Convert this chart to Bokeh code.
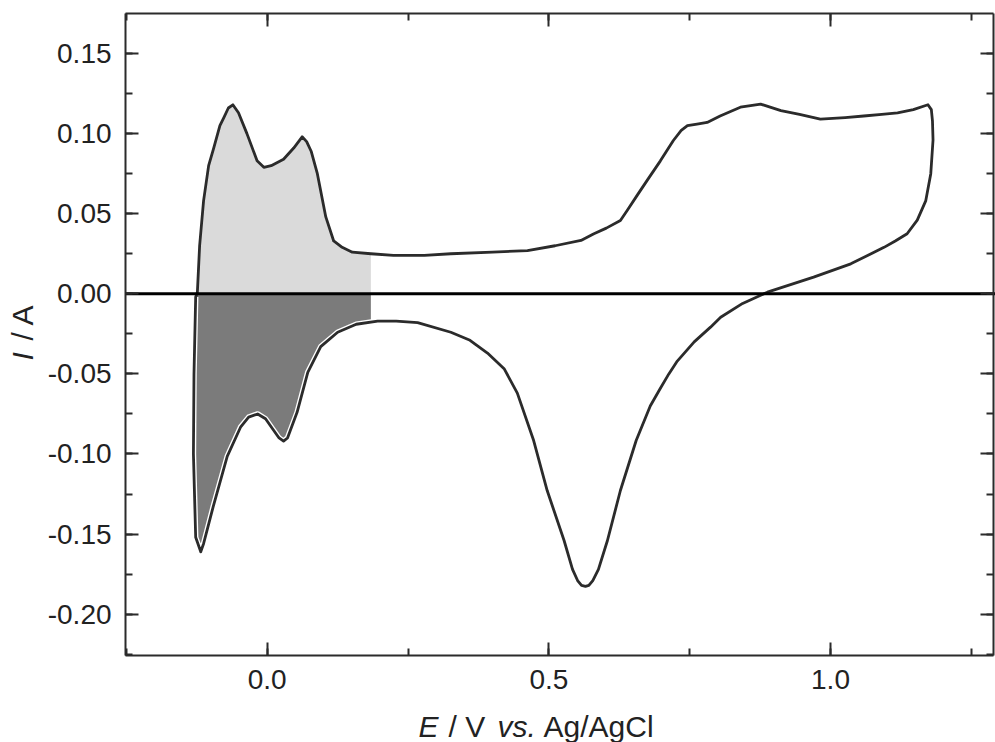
import numpy as np
from bokeh.plotting import figure
from bokeh.models import (Range1d, LinearAxis, SingleIntervalTicker, NumeralTickFormatter,
                          CustomJSTickFormatter, Label)
from bokeh.embed import file_html
from bokeh.resources import INLINE

# ---- data ----
# anodic (forward) sweep, E / V vs Ag/AgCl and I / A
anodic_E = [-0.118, -0.127, -0.131, -0.130, -0.127, -0.124, -0.120, -0.113, -0.104, -0.095,
            -0.084, -0.077, -0.069, -0.061, -0.051, -0.036, -0.018, -0.006, 0.007, 0.029,
            0.047, 0.062, 0.070, 0.078, 0.089, 0.104, 0.118, 0.133, 0.151, 0.184,
            0.224, 0.279, 0.326, 0.400, 0.462, 0.511, 0.557, 0.580, 0.602, 0.627,
            0.639, 0.657, 0.676, 0.698, 0.721, 0.735, 0.746, 0.763, 0.781, 0.804,
            0.840, 0.876, 0.912, 0.945, 0.982, 1.026, 1.059, 1.091, 1.119, 1.147,
            1.173]
anodic_I = [-0.161, -0.152, -0.100, -0.050, -0.002, 0.001, 0.030, 0.058, 0.080, 0.091,
            0.105, 0.110, 0.116, 0.118, 0.113, 0.100, 0.083, 0.079, 0.080, 0.084,
            0.091, 0.098, 0.095, 0.089, 0.075, 0.048, 0.033, 0.029, 0.026, 0.025,
            0.024, 0.024, 0.025, 0.026, 0.027, 0.030, 0.0333, 0.0375, 0.041, 0.0458,
            0.052, 0.0616, 0.0716, 0.083, 0.0957, 0.102, 0.105, 0.106, 0.107, 0.111,
            0.1165, 0.1184, 0.1144, 0.112, 0.109, 0.110, 0.111, 0.112, 0.113, 0.115,
            0.118]
# cathodic (reverse) sweep
cathodic_E = [1.179, 1.181, 1.182, 1.178, 1.169, 1.154, 1.136, 1.115, 1.095, 1.036,
              0.970, 0.888, 0.844, 0.805, 0.787, 0.758, 0.728, 0.713, 0.698, 0.680,
              0.655, 0.627, 0.604, 0.588, 0.578, 0.571, 0.565, 0.558, 0.551, 0.542,
              0.527, 0.497, 0.473,
              0.444, 0.421, 0.391, 0.360, 0.326, 0.267, 0.229, 0.196, 0.158, 0.125,
              0.095, 0.072, 0.053, 0.036, 0.029, 0.021, 0.011, -0.003, -0.017, -0.033,
              -0.047, -0.071, -0.096, -0.113, -0.118]
cathodic_I = [0.115, 0.108, 0.096, 0.075, 0.058, 0.046, 0.0375, 0.033, 0.029, 0.0187,
              0.0104, 0.001, -0.006, -0.0146, -0.0208, -0.030, -0.042, -0.050, -0.059, -0.070,
              -0.0916, -0.1228, -0.154, -0.172, -0.179, -0.182, -0.1826, -0.182, -0.179, -0.172,
              -0.154, -0.1228, -0.0916,
              -0.062, -0.047, -0.037, -0.029, -0.024, -0.018, -0.017, -0.017, -0.019, -0.024,
              -0.033, -0.049, -0.074, -0.090, -0.092, -0.090, -0.085, -0.078, -0.075, -0.077,
              -0.083, -0.1015, -0.133, -0.156, -0.161]
charge_limit_E = 0.184          # right edge of the shaded charge areas
x_lo, x_hi = -0.2515, 1.289     # plot box (axis limits)
y_lo, y_hi = -0.2258, 0.175
x_major = 0.5
y_major = 0.05

aE = np.array(anodic_E); aI = np.array(anodic_I)
cE = np.array(cathodic_E); cI = np.array(cathodic_I)

# the frame covers the whole canvas; the axes are pinned at the plot-box limits
p = figure(width=995, height=742, output_backend="svg", toolbar_location=None,
           x_range=Range1d(-0.4735, 1.2929), y_range=Range1d(-0.2801, 0.1831),
           x_axis_type=None, y_axis_type=None,
           min_border_left=0, min_border_right=0, min_border_top=0, min_border_bottom=0)
p.outline_line_color = None
p.background_fill_color = "white"
p.border_fill_color = "white"

# ---- shaded areas ----
m = (aI >= 0) & (aE <= charge_limit_E)
lx = list(aE[m]) + [charge_limit_E, aE[m][0]]
ly = list(aI[m]) + [0.0, 0.0]
p.patch(lx, ly, fill_color="#dadada", line_color=None)

c_at = float(np.interp(charge_limit_E, cE[::-1], cI[::-1]))
mc = cE < charge_limit_E
na = aI < 0
dx = [charge_limit_E, charge_limit_E] + list(cE[mc]) + list(aE[na][1:]) + [aE[na][-1]]
dy = [0.0, c_at] + list(cI[mc]) + list(aI[na][1:]) + [0.0]
p.patch(dx, dy, fill_color="#7b7b7b", line_color=None)

# thin white rim along the curve inside the dark area
wx = [charge_limit_E + 0.01] + list(cE[mc]) + list(aE[na][1:])
wy = [float(np.interp(charge_limit_E + 0.01, cE[::-1], cI[::-1]))] + list(cI[mc]) + list(aI[na][1:])
p.line(wx, wy, line_color="white", line_width=5.5, line_join="round")

# ---- the voltammogram ----
allE = list(aE) + list(cE)
allI = list(aI) + list(cI)
p.line(allE, allI, line_color="#2b2b2b", line_width=2.8, line_join="round", line_cap="round")

# zero-current line across the box
p.line([x_lo, x_hi + 0.01], [0, 0], line_color="black", line_width=3)

# ---- axes ----
AX = "#2b2b2b"
def style(ax, labels):
    ax.axis_line_color = AX
    ax.axis_line_width = 2
    ax.major_tick_in = 13
    ax.major_tick_out = 0
    ax.minor_tick_in = 7
    ax.minor_tick_out = 0
    ax.major_tick_line_color = AX
    ax.minor_tick_line_color = AX
    ax.major_tick_line_width = 2
    ax.minor_tick_line_width = 2
    ax.major_label_text_font = "Liberation Sans"
    ax.major_label_text_color = "#222222"
    ax.major_label_text_font_size = "28px"
    if not labels:
        ax.formatter = CustomJSTickFormatter(code="return ''")
        ax.major_label_text_font_size = "0px"
        ax.major_label_standoff = 0

xb = LinearAxis(ticker=SingleIntervalTicker(interval=x_major, num_minor_ticks=2),
                formatter=NumeralTickFormatter(format="0.0"),
                fixed_location=y_lo, bounds=(x_lo, x_hi))
style(xb, True); xb.major_label_standoff = 14
p.add_layout(xb, "below")
xt = LinearAxis(ticker=SingleIntervalTicker(interval=x_major, num_minor_ticks=2),
                fixed_location=y_hi, bounds=(x_lo, x_hi))
style(xt, False)
p.add_layout(xt, "above")

yl = LinearAxis(ticker=SingleIntervalTicker(interval=y_major, num_minor_ticks=2),
                formatter=NumeralTickFormatter(format="0.00"),
                fixed_location=x_lo, bounds=(y_lo, y_hi))
style(yl, True); yl.major_label_standoff = 14
p.add_layout(yl, "left")
yr = LinearAxis(ticker=SingleIntervalTicker(interval=y_major, num_minor_ticks=2),
                fixed_location=x_hi, bounds=(y_lo, y_hi))
style(yr, False)
p.add_layout(yr, "right")

# ---- axis titles (mixed italic / upright) ----
FONT = "Liberation Sans"
def lab(text, x, y, italic=False, angle=0.0):
    p.add_layout(Label(x=x, y=y, x_units="screen", y_units="screen", text=text,
                       text_font=FONT, text_font_size="30px", text_color="#222222",
                       text_font_style="italic" if italic else "normal",
                       text_align="left", text_baseline="alphabetic", angle=angle))

lab("E", 418, 16, italic=True)
lab("/ V", 448, 16)
lab("vs.", 497, 16, italic=True)
lab("Ag/AgCl", 543, 16)

lab("I", 22, 382, italic=True, angle=np.pi / 2)
lab("/ A", 22, 402, angle=np.pi / 2)

open("out.html", "w").write(file_html(p, INLINE))
